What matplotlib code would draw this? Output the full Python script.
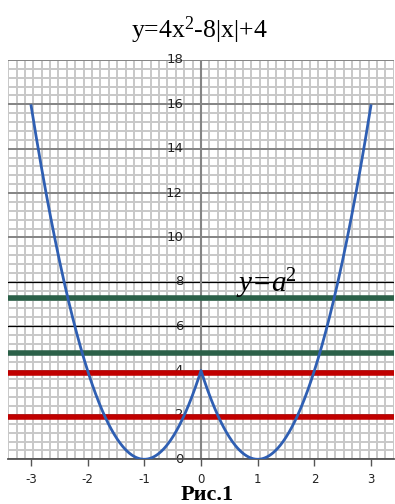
import numpy as np
import matplotlib
matplotlib.use("Agg")
import matplotlib.pyplot as plt
import matplotlib.transforms as mtransforms

plt.rcParams['mathtext.fontset'] = 'custom'
plt.rcParams['mathtext.rm'] = 'Liberation Serif'
plt.rcParams['mathtext.it'] = 'Liberation Serif:italic'

# функция и горизонтальные прямые y = a^2
x_min, x_max = -3, 3
x_ticks = [-3, -2, -1, 0, 1, 2, 3]
y_ticks = [0, 2, 4, 6, 8, 10, 12, 14, 16, 18]
green_levels = [7.25, 4.8]
red_levels = [3.9, 1.9]

x = np.linspace(x_min, x_max, 601)
y = 4 * x**2 - 8 * np.abs(x) + 4

fig = plt.figure(figsize=(3.95, 5.04), dpi=100)
ax = fig.add_axes([8.2 / 395, 1 - 459.3 / 504, (393.8 - 8.2) / 395, (459.3 - 60) / 504])
ax.set_xlim(-3.4, 3.4)
ax.set_ylim(0, 18)

# мелкая сетка
for k in range(-23, 24):
    ax.axvline(k * 3.4 / 23, color='#c8c8c8', lw=1.4, zorder=0)
for v in np.arange(0, 18.01, 0.4):
    ax.axhline(v, color='#c8c8c8', lw=1.4, zorder=0)
for v in y_ticks:
    if v in (6, 8):
        ax.axhline(v, color='black', lw=0.9, zorder=1)
    else:
        ax.axhline(v, color='#858585', lw=1.4, zorder=1)
ax.axvline(0, color='#858585', lw=1.5, zorder=1)

for s in ['left', 'right', 'top']:
    ax.spines[s].set_visible(False)
ax.spines['bottom'].set_color('#555555')
ax.spines['bottom'].set_linewidth(1.3)
ax.spines['bottom'].set_zorder(2)

ax.set_yticks([])
ax.set_xticks(x_ticks)
ax.set_xticklabels([str(t) for t in x_ticks], fontsize=8.5, color='#222222')
ax.tick_params(axis='x', direction='out', length=5, width=1, color='#555555', pad=5)

# подписи оси y возле вертикальной оси
off = mtransforms.offset_copy(ax.transData, fig=fig, x=-18, y=0, units='dots')
for v in y_ticks:
    ax.text(0, v, str(v), transform=off, ha='right', va='center',
            fontsize=9.5, color='#222222', zorder=1.5)

for lv in green_levels:
    ax.axhline(lv, color='#2b6048', lw=4, zorder=3)
for lv in red_levels:
    ax.axhline(lv, color='#c00000', lw=4, zorder=3)

ax.plot(x, y, color='#2f5fb3', lw=2, zorder=4, solid_capstyle='butt')

ax.text(0.62, 7.55, 'y=a$^{2}$', family='Liberation Serif', style='italic',
        fontsize=21, ha='left', va='baseline', zorder=5)

fig.text(199 / 395, 1 - 30 / 504, 'y=4x$^{2}$-8|x|+4', family='Liberation Serif',
         fontsize=18.5, ha='center', va='center')
fig.text(207 / 395, 1 - 495 / 504, 'Рис.1', family='Liberation Serif',
         fontweight='bold', fontsize=16, ha='center', va='center')

fig.savefig('out.png', dpi=100)
